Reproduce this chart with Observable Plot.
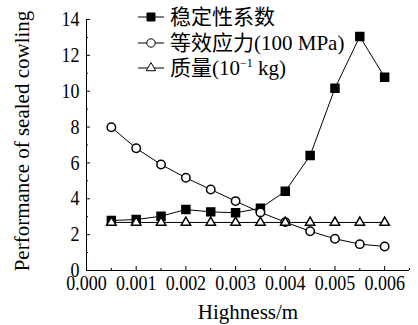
<!DOCTYPE html>
<html><head><meta charset="utf-8">
<script src="https://cdn.jsdelivr.net/npm/d3@7"></script>
<script src="https://cdn.jsdelivr.net/npm/@observablehq/plot@0.6"></script>
<style>
body{margin:0;background:#fff;}
#chart{position:relative;width:418px;height:325px;}
</style></head>
<body><div id="chart"></div>
<script>
const heights = [0.0005,0.001,0.0015,0.002,0.0025,0.003,0.0035,0.004,0.0045,0.005,0.0055,0.006];
const stability = [2.79,2.84,3.03,3.40,3.27,3.22,3.47,4.42,6.41,10.17,13.05,10.78];
const stress = [7.99,6.82,5.91,5.17,4.52,3.87,3.24,2.70,2.19,1.77,1.47,1.34];
const mass = [2.68,2.68,2.68,2.68,2.68,2.68,2.68,2.68,2.68,2.68,2.68,2.68];
const seriesNames = ["稳定性系数","等效应力(100 MPa)","质量(10⁻¹ kg)"];
const xTicks = [0,0.001,0.002,0.003,0.004,0.005,0.006];
const xMinor = [0.0005,0.0015,0.0025,0.0035,0.0045,0.0055,0.0065];
const yTicks = [0,2,4,6,8,10,12,14];
const yMinor = [1,3,5,7,9,11,13];
const xLabel = "Highness/m";
const yLabel = "Performance of sealed cowling";

const mk = vals => heights.map((h,i)=>({x:h,y:vals[i]}));
const sSt = mk(stability), sSs = mk(stress), sM = mk(mass);
const font = "'Liberation Serif','Times New Roman','Noto Sans CJK SC',serif";

const plot = Plot.plot({
  width:418, height:325,
  marginLeft:86, marginRight:9, marginTop:19, marginBottom:55,
  style:`font-family:${font};font-size:18px;color:#000;background:#fff;`,
  x:{domain:[0,0.0065]},
  y:{domain:[0,14]},
  marks:[
    Plot.axisX({ticks:xTicks, tickSize:-4, tickPadding:9, tickFormat:d3.format(".3f"), label:null}),
    Plot.axisX({ticks:xMinor, tickSize:-2, text:null, label:null}),
    Plot.axisY({ticks:yTicks, tickSize:-4, tickPadding:11, label:null}),
    Plot.axisY({ticks:yMinor, tickSize:-2, text:null, label:null}),
    Plot.ruleX([0],{y1:0,y2:14,stroke:"#000"}),
    Plot.ruleY([0],{x1:0,x2:0.0065,stroke:"#000"}),
    Plot.line(sSt,{x:"x",y:"y",stroke:"#000",strokeWidth:1}),
    Plot.dot(sSt,{x:"x",y:"y",symbol:"square",r:4.5,fill:"#000",stroke:"#000"}),
    Plot.line(sSs,{x:"x",y:"y",stroke:"#000",strokeWidth:1}),
    Plot.dot(sSs,{x:"x",y:"y",symbol:"circle",r:4.2,fill:"#fff",stroke:"#000"}),
    Plot.line(sM,{x:"x",y:"y",stroke:"#000",strokeWidth:1}),
    Plot.dot(sM,{x:"x",y:"y",symbol:"triangle",r:3.5,fill:"#fff",stroke:"#000"})
  ]
});
document.getElementById("chart").appendChild(plot);

const svg = d3.select(plot);
svg.selectAll("text").attr("font-family",font).attr("font-size",18).attr("fill","#000")
  .each(function(){
    const tr = this.getAttribute("transform");
    if (tr) this.setAttribute("transform", tr + " scale(1,1.15)");
  });
// axis labels
svg.append("text").attr("x",248).attr("y",319).attr("text-anchor","middle")
  .attr("font-family",font).attr("font-size",21).attr("fill","#000").text(xLabel);
svg.append("text").attr("transform","translate(29,141) rotate(-90)").attr("text-anchor","middle")
  .attr("font-family",font).attr("font-size",21).attr("fill","#000").text(yLabel);

// legend
const rows = [17,43,68];
const symbols = [d3.symbolSquare, d3.symbolCircle, d3.symbolTriangle];
const sizes = [Math.PI*4.5*4.5, Math.PI*4.2*4.2, Math.PI*3.5*3.5];
const fills = ["#000","#fff","#fff"];
const lg = svg.append("g");
rows.forEach((yy,i)=>{
  lg.append("line").attr("x1",138).attr("x2",164).attr("y1",yy).attr("y2",yy).attr("stroke","#000");
  lg.append("path").attr("d",d3.symbol(symbols[i],sizes[i])()).attr("transform",`translate(151,${yy})`)
    .attr("fill",fills[i]).attr("stroke","#000");
  const t = lg.append("text").attr("x",170).attr("y",yy+7).attr("text-anchor","start")
    .attr("font-family",font).attr("font-size",21).attr("fill","#000");
  if(i===2){
    t.append("tspan").text("质量(10");
    t.append("tspan").attr("dy",-8).attr("font-size",12).text("−1");
    t.append("tspan").attr("dy",8).text(" kg)");
  } else t.text(seriesNames[i]);
});
</script></body></html>
